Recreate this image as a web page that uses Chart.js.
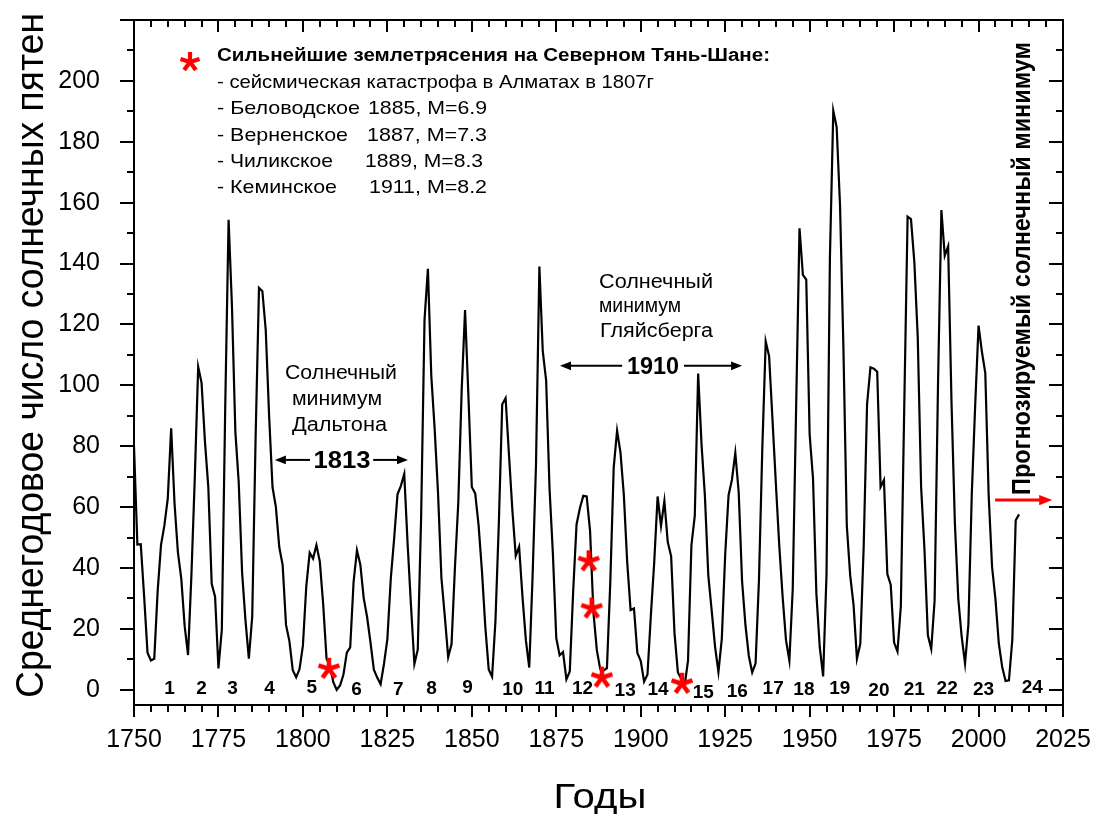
<!DOCTYPE html>
<html>
<head>
<meta charset="utf-8">
<script src="https://cdn.jsdelivr.net/npm/chart.js@4/dist/chart.umd.min.js"></script>
<style>
  html, body { margin: 0; padding: 0; background: #fff; }
  canvas { display: block; }
</style>
</head>
<body>
<canvas id="chart" width="1096" height="814"></canvas>
<script>
/* === Data === */
const firstYear = 1750;
// yearly mean sunspot number, 1750..2012
const sunspots = [
  80.0, 47.7, 47.8, 30.7, 12.2, 9.6, 10.2, 32.4, 47.6, 54.0,
  62.9, 85.9, 61.2, 45.1, 36.4, 20.9, 11.4, 37.8, 69.8, 106.1,
  100.8, 81.6, 66.5, 34.8, 30.6, 7.0, 19.8, 92.5, 154.4, 125.9,
  84.8, 68.1, 38.5, 22.8, 10.2, 24.1, 82.9, 132.0, 130.9, 118.1,
  89.9, 66.6, 60.0, 46.9, 41.0, 21.3, 16.0, 6.4, 4.1, 6.8,
  14.5, 34.0, 45.0, 43.1, 47.5, 42.2, 28.1, 10.1, 8.1, 2.5,
  0.0, 1.4, 5.0, 12.2, 13.9, 35.4, 45.8, 41.1, 30.1, 23.9,
  15.6, 6.6, 4.0, 1.8, 8.5, 16.6, 36.3, 49.6, 64.2, 67.0,
  70.9, 47.8, 27.5, 8.5, 13.2, 56.9, 121.5, 138.3, 103.2, 85.7,
  64.6, 36.7, 24.2, 10.7, 15.0, 40.1, 61.5, 98.5, 124.7, 96.3,
  66.6, 64.5, 54.1, 39.0, 20.6, 6.7, 4.3, 22.7, 54.8, 93.8,
  95.8, 77.2, 59.1, 44.0, 47.0, 30.5, 16.3, 7.3, 37.6, 74.0,
  139.0, 111.2, 101.6, 66.2, 44.7, 17.0, 11.3, 12.4, 3.4, 6.0,
  32.3, 54.3, 59.7, 63.7, 63.5, 52.2, 25.4, 13.1, 6.8, 6.3,
  7.1, 35.6, 73.0, 85.1, 78.0, 64.0, 41.8, 26.2, 26.7, 12.1,
  9.5, 2.7, 5.0, 24.4, 42.0, 63.5, 53.8, 62.0, 48.5, 43.9,
  18.6, 5.7, 3.6, 1.4, 9.6, 47.4, 57.1, 103.9, 80.6, 63.6,
  37.6, 26.1, 14.2, 5.8, 16.7, 44.3, 63.9, 69.0, 77.8, 64.9,
  35.7, 21.2, 11.1, 5.7, 8.7, 36.1, 79.7, 114.4, 109.6, 88.8,
  67.8, 47.5, 30.6, 16.3, 9.6, 33.2, 92.6, 151.6, 136.3, 134.7,
  83.9, 69.4, 31.5, 13.9, 4.4, 38.0, 141.7, 190.2, 184.8, 159.0,
  112.3, 53.9, 37.6, 27.9, 10.2, 15.1, 47.0, 93.8, 105.9, 105.5,
  104.5, 66.6, 68.9, 38.0, 34.5, 15.5, 12.6, 27.5, 92.5, 155.4,
  154.6, 140.4, 115.9, 66.6, 45.9, 17.9, 13.4, 29.4, 100.2, 157.6,
  142.6, 145.7, 94.3, 54.6, 29.9, 17.5, 8.6, 21.5, 64.3, 93.3,
  119.6, 111.0, 104.0, 63.7, 40.4, 29.8, 15.2, 7.5, 2.9, 3.1,
  16.5, 55.7, 57.6
];

// red asterisks: strongest earthquakes
const quakeYears  = [1807.7, 1884.6, 1885.5, 1888.5, 1912.2];
const quakeValues = [6.9, 42.2, 26.7, 4.0, 2.0];

// solar cycle numbers along the bottom
const cycleLabels = ['1','2','3','4','5','6','7','8','9','10','11','12',
                     '13','14','15','16','17','18','19','20','21','22','23','24'];
const cycleYears  = [1760.5, 1770.0, 1779.2, 1790.1, 1802.6, 1815.9, 1828.2, 1838.1,
                     1848.7, 1862.1, 1871.5, 1882.8, 1895.4, 1905.1, 1918.5, 1928.6,
                     1939.2, 1948.3, 1958.9, 1970.5, 1981.0, 1990.7, 2001.5, 2015.9];
const cycleLevels = [0.2, 0.2, 0.2, 0.2, 0.7, -0.1, -0.1, 0.2, 0.7, -0.1, 0.2, 0.2,
                     -0.3, -0.1, -0.9, -0.5, 0.2, -0.1, 0.2, -0.3, -0.1, 0.2, -0.1, 0.7];

const xTicks = [1750, 1775, 1800, 1825, 1850, 1875, 1900, 1925, 1950, 1975, 2000, 2025];
const yTicks = [0, 20, 40, 60, 80, 100, 120, 140, 160, 180, 200];

/* === Helpers === */
const FONT = "'Liberation Sans', Arial, sans-serif";

function makeStar(size, r, lw) {
  const c = document.createElement('canvas');
  c.width = c.height = size;
  const g = c.getContext('2d');
  g.strokeStyle = '#ff0000';
  g.lineWidth = lw;
  g.beginPath();
  for (let k = 0; k < 5; k++) {
    const a = -Math.PI / 2 + k * 2 * Math.PI / 5;
    g.moveTo(size / 2, size / 2);
    g.lineTo(size / 2 + r * Math.cos(a), size / 2 + r * Math.sin(a));
  }
  g.stroke();
  return c;
}
const star = makeStar(26, 11, 4.5);

// text, optionally squeezed/stretched to a given width
function txt(ctx, s, x, y, font, w, align, rot) {
  ctx.save();
  ctx.font = font;
  ctx.translate(x, y);
  if (rot) ctx.rotate(rot);
  const k = w ? w / ctx.measureText(s).width : 1;
  ctx.scale(k, 1);
  ctx.textAlign = align || 'left';
  ctx.fillText(s, 0, 0);
  ctx.restore();
}

function hArrow(ctx, x1, x2, y, head) {
  const dir = Math.sign(x2 - x1);
  ctx.beginPath();
  ctx.moveTo(x1, y);
  ctx.lineTo(x2 - dir * head * 0.8, y);
  ctx.stroke();
  ctx.beginPath();
  ctx.moveTo(x2, y);
  ctx.lineTo(x2 - dir * head, y - head * 0.4);
  ctx.lineTo(x2 - dir * head, y + head * 0.4);
  ctx.closePath();
  ctx.fill();
}

/* === Annotations plugin === */
const decor = {
  id: 'decor',
  afterDatasetsDraw(chart) {
    const { ctx, chartArea: a } = chart;
    const xs = chart.scales.x, ys = chart.scales.y;
    const X = v => xs.getPixelForValue(v), Y = v => ys.getPixelForValue(v);

    ctx.save();
    ctx.strokeStyle = '#000';
    ctx.fillStyle = '#000';
    ctx.lineWidth = 2;

    // frame
    ctx.strokeRect(a.left, a.top, a.right - a.left, a.bottom - a.top);

    // ticks: outward on bottom/left, inward on top/right
    ctx.beginPath();
    for (let v = 1750; v <= 2025; v += 5) {
      const px = Math.round(X(v)), major = v % 25 === 0;
      ctx.moveTo(px, a.bottom); ctx.lineTo(px, a.bottom + (major ? 12 : 7));
      ctx.moveTo(px, a.top);    ctx.lineTo(px, a.top + (major ? 12 : 7));
    }
    for (let v = 0; v <= 220; v += 10) {
      const py = Math.round(Y(v)), major = v % 20 === 0;
      ctx.moveTo(a.left, py);  ctx.lineTo(a.left - (major ? 14 : 7), py);
      ctx.moveTo(a.right, py); ctx.lineTo(a.right - (major ? 14 : 7), py);
    }
    ctx.stroke();

    // cycle numbers
    ctx.textBaseline = 'middle';
    cycleLabels.forEach((s, i) => {
      txt(ctx, s, X(cycleYears[i]), Y(cycleLevels[i]), 'bold 19px ' + FONT, 0, 'center');
    });
    ctx.textBaseline = 'alphabetic';

    // legend block
    ctx.drawImage(makeStar(24, 10, 4.2), 178, 50);
    txt(ctx, 'Сильнейшие землетрясения на Северном Тянь-Шане:', 217, 61, 'bold 18px ' + FONT, 553);
    txt(ctx, '- сейсмическая катастрофа в Алматах в 1807г', 217, 87.5, '18.5px ' + FONT, 437);
    txt(ctx, '- Беловодское', 217, 114, '18.5px ' + FONT, 143);
    txt(ctx, '1885, M=6.9', 368, 114, '18.5px ' + FONT, 119);
    txt(ctx, '- Верненское', 217, 140.5, '18.5px ' + FONT, 131);
    txt(ctx, '1887, M=7.3', 367, 140.5, '18.5px ' + FONT, 120);
    txt(ctx, '- Чиликское', 217, 167, '18.5px ' + FONT, 116);
    txt(ctx, '1889, M=8.3', 365, 167, '18.5px ' + FONT, 118);
    txt(ctx, '- Кеминское', 217, 193.3, '18.5px ' + FONT, 120);
    txt(ctx, '1911, M=8.2', 369, 193.3, '18.5px ' + FONT, 118);

    // Dalton minimum
    txt(ctx, 'Солнечный', 341, 379, '20px ' + FONT, 112, 'center');
    txt(ctx, 'минимум', 337, 405, '20px ' + FONT, 90, 'center');
    txt(ctx, 'Дальтона', 339.5, 431, '20px ' + FONT, 95, 'center');
    ctx.lineWidth = 2;
    hArrow(ctx, X(1802.1), X(1791.7), Y(75.5), 11);
    hArrow(ctx, X(1820.8), X(1831.1), Y(75.5), 11);
    txt(ctx, '1813', X(1811.6), Y(75.5) + 8.5, 'bold 23px ' + FONT, 57, 'center');

    // Gleissberg minimum
    txt(ctx, 'Солнечный', 599, 288, '20px ' + FONT, 114);
    txt(ctx, 'минимум', 599, 312, '20px ' + FONT, 82);
    txt(ctx, 'Гляйсберга', 600, 337, '20px ' + FONT, 113);
    hArrow(ctx, X(1894.5), X(1876.1), Y(106.4), 11);
    hArrow(ctx, X(1912.8), X(1930.0), Y(106.4), 11);
    txt(ctx, '1910', X(1903.6), Y(106.4) + 8.5, 'bold 23px ' + FONT, 52, 'center');

    // predicted minimum
    txt(ctx, 'Прогнозируемый солнечный минимум', 1030, 268.5, 'bold 25px ' + FONT, 453, 'center', -Math.PI / 2);
    ctx.strokeStyle = '#ff0000';
    ctx.fillStyle = '#ff0000';
    ctx.lineWidth = 3;
    hArrow(ctx, X(2004.9), X(2021.8), Y(62.3), 13);

    // axis titles
    ctx.fillStyle = '#000';
    txt(ctx, 'Среднегодовое число солнечных пятен', 43, 355.5, '38px ' + FONT, 685, 'center', -Math.PI / 2);
    txt(ctx, 'Годы', 600, 808, '35px ' + FONT, 93, 'center');

    ctx.restore();
  }
};

/* === Chart === */
const tickFont = { family: FONT, size: 25 };

new Chart(document.getElementById('chart'), {
  type: 'line',
  data: {
    datasets: [
      {
        type: 'scatter',
        data: quakeYears.map((x, i) => ({ x, y: quakeValues[i] })),
        pointStyle: star,
        pointRadius: 11,
        order: 0
      },
      {
        data: sunspots.map((v, i) => ({ x: firstYear + i, y: v })),
        borderColor: '#000',
        borderWidth: 2.2,
        pointRadius: 0,
        tension: 0,
        fill: false,
        order: 1
      }
    ]
  },
  options: {
    responsive: false,
    animation: false,
    devicePixelRatio: 1,
    layout: { padding: { top: 20, right: 33, left: 0, bottom: 0 } },
    plugins: { legend: { display: false }, tooltip: { enabled: false } },
    scales: {
      x: {
        type: 'linear',
        min: 1750,
        max: 2025,
        afterBuildTicks: s => { s.ticks = xTicks.map(v => ({ value: v })); },
        afterFit: s => { s.height = 109; s.paddingLeft = 0; s.paddingRight = 0; },
        grid: { display: false },
        border: { display: false },
        ticks: { font: tickFont, color: '#000', padding: 12, maxRotation: 0, autoSkip: false, callback: v => String(v) }
      },
      y: {
        min: -5,
        max: 220,
        afterBuildTicks: s => { s.ticks = yTicks.map(v => ({ value: v })); },
        afterFit: s => { s.width = 134; s.paddingTop = 0; s.paddingBottom = 0; },
        grid: { display: false },
        border: { display: false },
        ticks: { font: tickFont, color: '#000', padding: 26, autoSkip: false, callback: v => String(v) }
      }
    }
  },
  plugins: [decor]
});
</script>
</body>
</html>
